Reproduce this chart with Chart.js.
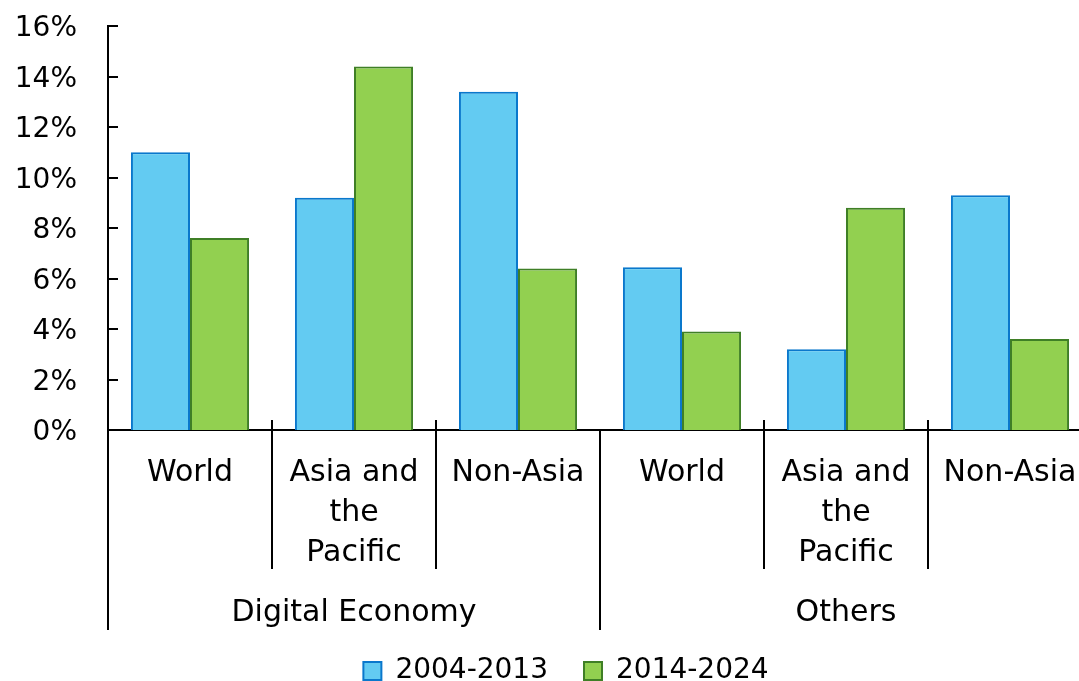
<!DOCTYPE html>
<html>
<head>
<meta charset="utf-8">
<title>Growth rates</title>
<script src="https://cdn.jsdelivr.net/npm/chart.js@4/dist/chart.umd.min.js"></script>
<style>
  html, body { margin: 0; padding: 0; background: #fff; overflow: hidden; }
  #wrap { position: relative; width: 1132px; height: 681px; }
</style>
</head>
<body>
<div id="wrap"><canvas id="chart"></canvas></div>
<script>
// Categories (sub-regions) and their groups
const categories = ['World', ['Asia and', 'the', 'Pacific'], 'Non-Asia', 'World', ['Asia and', 'the', 'Pacific'], 'Non-Asia'];
const groups = ['Digital Economy', 'Others'];
const groupSize = 3;

// Average growth, %
const period1 = [11.0, 9.2, 13.4, 6.45, 3.2, 9.3];
const period2 = [7.6, 14.4, 6.4, 3.9, 8.8, 3.6];
const seriesNames = ['2004-2013', '2014-2024'];

const yMin = 0, yMax = 16, yStep = 2;

const FONT = '"DejaVu Sans", sans-serif';
const LABEL_SIZE = 30;
const TICK_SIZE = 28;

// Category dividers, group labels and inward ticks on the value axis
const axisExtras = {
  id: 'axisExtras',
  afterDraw(chart) {
    const ctx = chart.ctx;
    const x = chart.scales.x;
    const y = chart.scales.y;
    const base = y.getPixelForValue(0);
    const step = x.getPixelForValue(1) - x.getPixelForValue(0);
    ctx.save();
    ctx.strokeStyle = '#000';
    ctx.lineWidth = 2;

    // small ticks pointing into the plot
    for (let v = yMin; v <= yMax; v += yStep) {
      const py = Math.round(y.getPixelForValue(v));
      ctx.beginPath();
      ctx.moveTo(chart.chartArea.left, py);
      ctx.lineTo(chart.chartArea.left + 10, py);
      ctx.stroke();
    }

    // dividers between categories; longer ones between groups
    for (let i = 0; i <= categories.length; i++) {
      const px = Math.round(x.getPixelForValue(0) - step / 2 + i * step);
      const isGroup = i % groupSize === 0;
      ctx.beginPath();
      ctx.moveTo(px, isGroup ? base : base - 10);
      ctx.lineTo(px, isGroup ? base + 200 : base + 139);
      ctx.stroke();
    }

    // group labels
    ctx.fillStyle = '#000';
    ctx.font = LABEL_SIZE + 'px ' + FONT;
    ctx.textAlign = 'center';
    ctx.textBaseline = 'middle';
    groups.forEach((g, gi) => {
      const first = x.getPixelForValue(gi * groupSize);
      const last = x.getPixelForValue(gi * groupSize + groupSize - 1);
      ctx.fillText(g, (first + last) / 2, base + 183);
    });
    ctx.restore();
  }
};

new Chart(document.getElementById('chart'), {
  type: 'bar',
  data: {
    labels: categories,
    datasets: [
      {
        label: seriesNames[0],
        data: period1,
        backgroundColor: '#63CBF2',
        borderColor: '#0A78CC',
        borderWidth: 2
      },
      {
        label: seriesNames[1],
        data: period2,
        backgroundColor: '#92D050',
        borderColor: '#3F7F26',
        borderWidth: 2
      }
    ]
  },
  options: {
    responsive: true,
    maintainAspectRatio: false,
    animation: false,
    datasets: {
      bar: { categoryPercentage: 0.72, barPercentage: 1.0 }
    },
    layout: { padding: { top: 26, right: 0, left: 0, bottom: -14 } },
    plugins: {
      tooltip: { enabled: false },
      legend: {
        position: 'bottom',
        labels: {
          color: '#000',
          font: { family: FONT, size: TICK_SIZE },
          boxWidth: 18,
          boxHeight: 18,
          padding: 36
        }
      }
    },
    scales: {
      x: {
        grid: { display: false, drawTicks: false },
        border: { display: true, color: '#000', width: 2 },
        ticks: {
          color: '#000',
          font: { family: FONT, size: LABEL_SIZE, lineHeight: '40px' },
          padding: 23,
          maxRotation: 0,
          autoSkip: false
        },
        afterFit(scale) {
          scale.height = 191;
          // keep the plot's right edge 40px in from the canvas edge
          scale.paddingRight = 40;
        }
      },
      y: {
        min: yMin,
        max: yMax,
        grid: { display: false, drawTicks: false },
        border: { display: true, color: '#000', width: 2 },
        ticks: {
          stepSize: yStep,
          color: '#000',
          font: { family: FONT, size: TICK_SIZE },
          padding: 31,
          labelOffset: 3,
          callback: v => v + '%'
        },
        afterFit(scale) {
          scale.width = 108;
          scale.paddingTop = 0;
          scale.paddingBottom = 0;
        }
      }
    }
  },
  plugins: [axisExtras]
});
</script>
</body>
</html>
